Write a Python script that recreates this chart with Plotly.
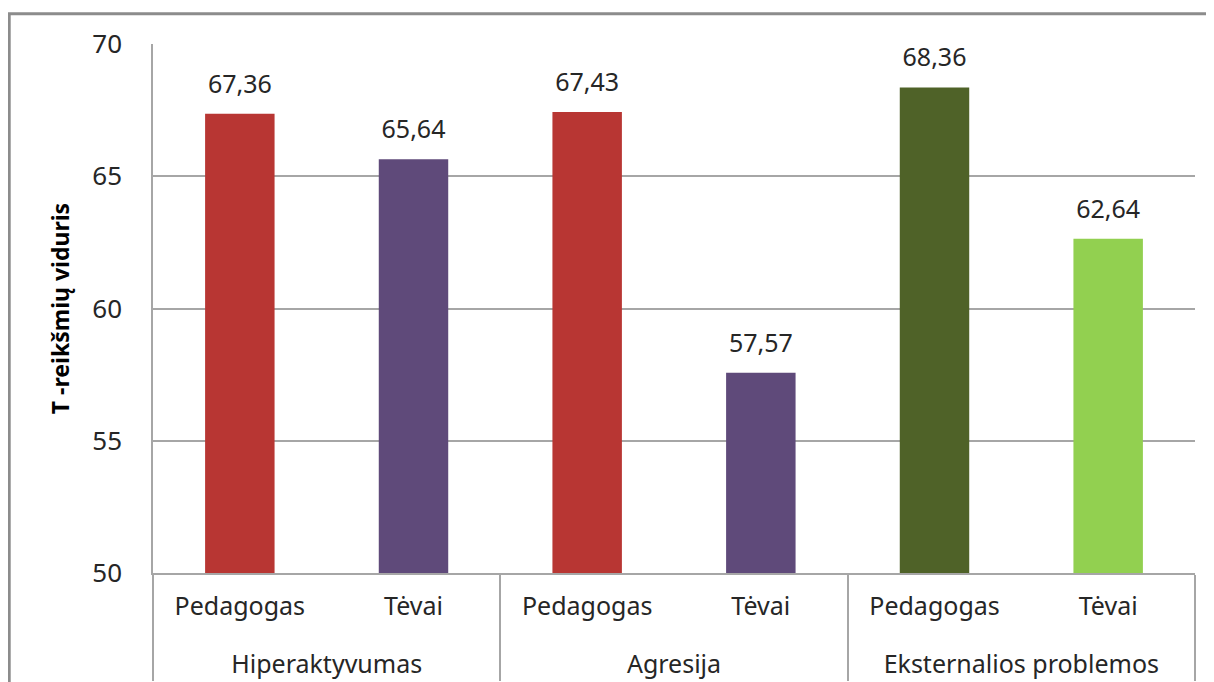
import plotly.graph_objects as go

# data
groups = ["Hiperaktyvumas", "Hiperaktyvumas", "Agresija", "Agresija",
          "Eksternalios problemos", "Eksternalios problemos"]
raters = ["Pedagogas", "Tėvai", "Pedagogas", "Tėvai", "Pedagogas", "Tėvai"]
values = [67.36, 65.64, 67.43, 57.57, 68.36, 62.64]
bar_colors = ["#B83633", "#5F4A7A", "#B83633", "#5F4A7A", "#4F6228", "#92D050"]
y_ticks = [50, 55, 60, 65, 70]

labels = [f"{v:.2f}".replace(".", ",") for v in values]
# leading break pushes the group names a line lower, like the original
group_labels = ["<br>" + g for g in groups]
font_name = "Noto Sans"

fig = go.Figure()

fig.add_trace(go.Bar(
    x=[group_labels, raters],
    y=values,
    width=0.4,
    marker=dict(color=bar_colors, line=dict(width=0)),
    hoverinfo="skip",
    showlegend=False,
))

# value labels sit a little above each bar (transparent marker gives the gap)
fig.add_trace(go.Scatter(
    x=[group_labels, raters],
    y=values,
    mode="markers+text",
    text=labels,
    textposition="top center",
    textfont=dict(family=font_name, size=25, color="#262626"),
    marker=dict(size=22, color="rgba(0,0,0,0)"),
    hoverinfo="skip",
    showlegend=False,
    cliponaxis=False,
))

# page body has an 8px margin, so the figure is 8px smaller and shifted
fig.update_layout(
    width=1206,
    height=674,
    margin=dict(l=145, r=19, t=36, b=109),
    paper_bgcolor="white",
    plot_bgcolor="white",
    font=dict(family=font_name, size=25, color="#262626"),
    bargap=0.6,
)

fig.update_xaxes(
    type="multicategory",
    automargin=False,
    showline=True,
    linecolor="#A6A6A6",
    linewidth=1.5,
    showgrid=False,
    showdividers=True,
    dividercolor="#A6A6A6",
    dividerwidth=1.5,
    tickfont=dict(family=font_name, size=25, color="#262626"),
    ticks="",
    ticklabelstandoff=10,
)

fig.update_yaxes(
    range=[50, 70],
    tickvals=y_ticks,
    automargin=False,
    showline=True,
    linecolor="#A6A6A6",
    linewidth=1.5,
    showgrid=True,
    gridcolor="#A6A6A6",
    gridwidth=1.5,
    zeroline=False,
    ticks="",
    ticklabelstandoff=24,
    tickfont=dict(family=font_name, size=26, color="#262626"),
    title=dict(text="<b>T -reikšmių viduris</b>",
               font=dict(family=font_name, size=23, color="black"),
               standoff=16),
)

# outer chart frame
fig.add_shape(type="rect", xref="paper", yref="paper",
              x0=-0.138, x1=1.2, y0=-0.4, y1=1.057,
              line=dict(color="#8C8C8C", width=3), layer="below")

fig.write_html("out.html")
